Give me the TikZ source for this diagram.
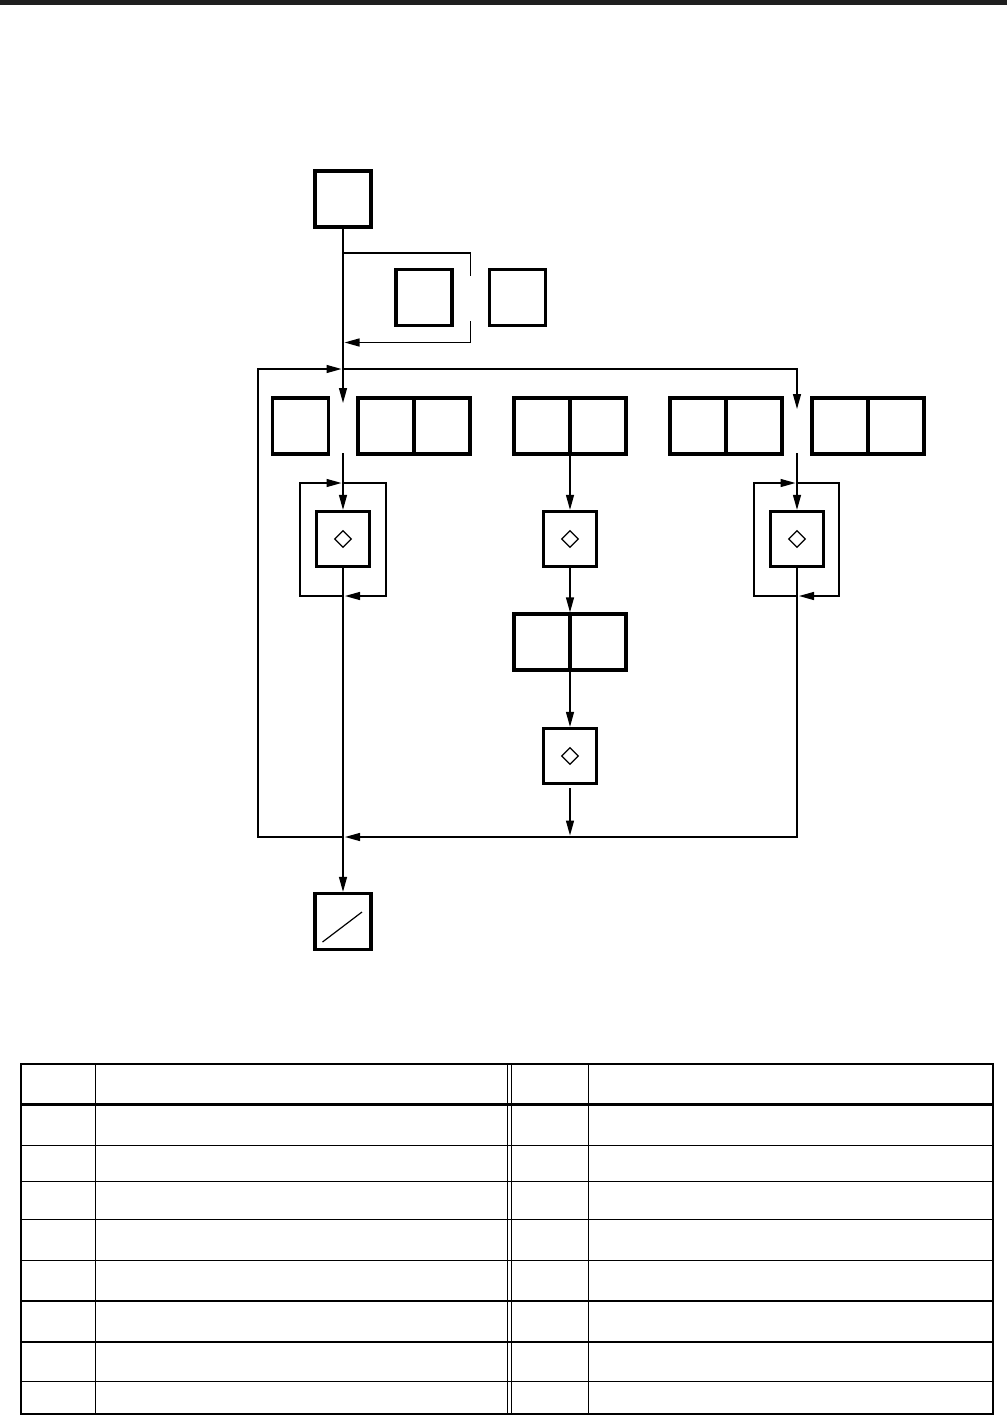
\documentclass[tikz,border=0pt]{standalone}
\usepackage{tikz}
\usetikzlibrary{arrows.meta, positioning, calc}

\begin{document}
\begin{tikzpicture}[x=1pt, y=-1pt,
    box/.style={draw, line width=3.3pt, minimum size=56pt, inner sep=0pt},
    dbox/.style={box, minimum width=53.5pt, minimum height=55pt,
                 path picture={\draw[line width=1.3pt] (path picture bounding box.center)
                   +(0,8.3) -- +(8.3,0) -- +(0,-8.3) -- +(-8.3,0) -- cycle;}},
    endbox/.style={box, path picture={\draw[line width=1.2pt] (path picture bounding box.center)
                   +(-20.5,20.5) -- +(19,-9.5);}},
    line/.style={line width=1.3pt},
    arr/.style={line, -{Triangle[length=15pt, width=8pt]}}
  ]
  \useasboundingbox (0,0) rectangle (1007,1416);
  \fill[black!88] (0,0) rectangle (1007,4.5);

  % boxes
  \node[box] (top) at (343,199) {};
  \node[box] (sa) at (424,297.5) {};
  \node[box] (sb) at (517.5,297.5) {};

  \node[box] (r1) at (300.5,426) {};
  \node[box] (p2a) at (386,426) {};
  \node[box] (p2b) at (442,426) {};
  \node[box] (p3a) at (542,426) {};
  \node[box] (p3b) at (598,426) {};
  \node[box] (p4a) at (698,426) {};
  \node[box] (p4b) at (754,426) {};
  \node[box] (p5a) at (840,426) {};
  \node[box] (p5b) at (896,426) {};

  \node[dbox] (d1) at (343,539) {};
  \node[dbox] (d2) at (570,539) {};
  \node[dbox] (d4) at (797,539) {};
  \node[box] (p6a) at (542,642) {};
  \node[box] (p6b) at (598,642) {};
  \node[dbox] (d3) at (570,756) {};

  \node[endbox] (fin) at (343,921.5) {};

  % junctions
  \coordinate (sk1) at (343,253);
  \coordinate (sk2) at (343,342.5);
  \coordinate (jt) at (343,369);
  \coordinate (jb) at (343,837);
  \coordinate (gl1) at (343,403);
  \coordinate (gl2) at (343,453);
  \coordinate (gr1) at (797,409);
  \coordinate (gr2) at (797,453);
  \coordinate (l1t) at (343,483);
  \coordinate (l1b) at (343,596);
  \coordinate (l4t) at (797,483);
  \coordinate (l4b) at (797,596);

  % connectors
  \draw[arr] (top.south) -- (gl1);
  \draw[line] (sk1) -| ($(sa.east)!0.5!(sb.west)+(0,-22)$);
  \draw[arr, shorten >=1.5pt] ($(sa.east)!0.5!(sb.west)+(0,23.5)$) |- (sk2);

  \draw[arr, shorten >=1.5pt] (jb) -| (258,369) -- (jt);
  \draw[arr] (jt) -| (gr1);

  \draw[arr] (gl2) -- (d1.north);
  \draw[arr, shorten >=1.5pt] (l1b) -| ++(-43,-113) -- (l1t);
  \draw[arr, shorten >=2pt] (l1t) -| ++(43,113) -- (l1b);
  \draw[arr] (d1.south) -- (fin.north);

  \draw[arr] (p3a.south -| d2.north) -- (d2.north);
  \draw[arr] (d2.south) -- (p6a.north -| d2.south);
  \draw[arr] (p6a.south -| d3.north) -- (d3.north);
  \draw[arr, shorten <=3pt, shorten >=1.5pt] (d3.south) -- (d3.south |- jb);

  \draw[arr] (gr2) -- (d4.north);
  \draw[arr, shorten >=1.5pt] (l4b) -| ++(-43,-113) -- (l4t);
  \draw[arr, shorten >=2pt] (l4t) -| ++(42,113) -- (l4b);
  \draw[arr, shorten >=2pt] (d4.south) |- (jb);

  % table
  \draw[line width=2.4pt] (21,1064) rectangle (993,1414);
  \draw[line width=2.2pt] (21,1104.5) -- (993,1104.5);
  \foreach \y in {1145.5,1181.5,1219.5,1260.5,1301,1342,1381.5}
    \draw[line width=1.4pt] (21,\y) -- (993,\y);
  \foreach \x in {95,507.5,511,588}
    \draw[line width=0.9pt] (\x,1064) -- (\x,1414);
\end{tikzpicture}
\end{document}
